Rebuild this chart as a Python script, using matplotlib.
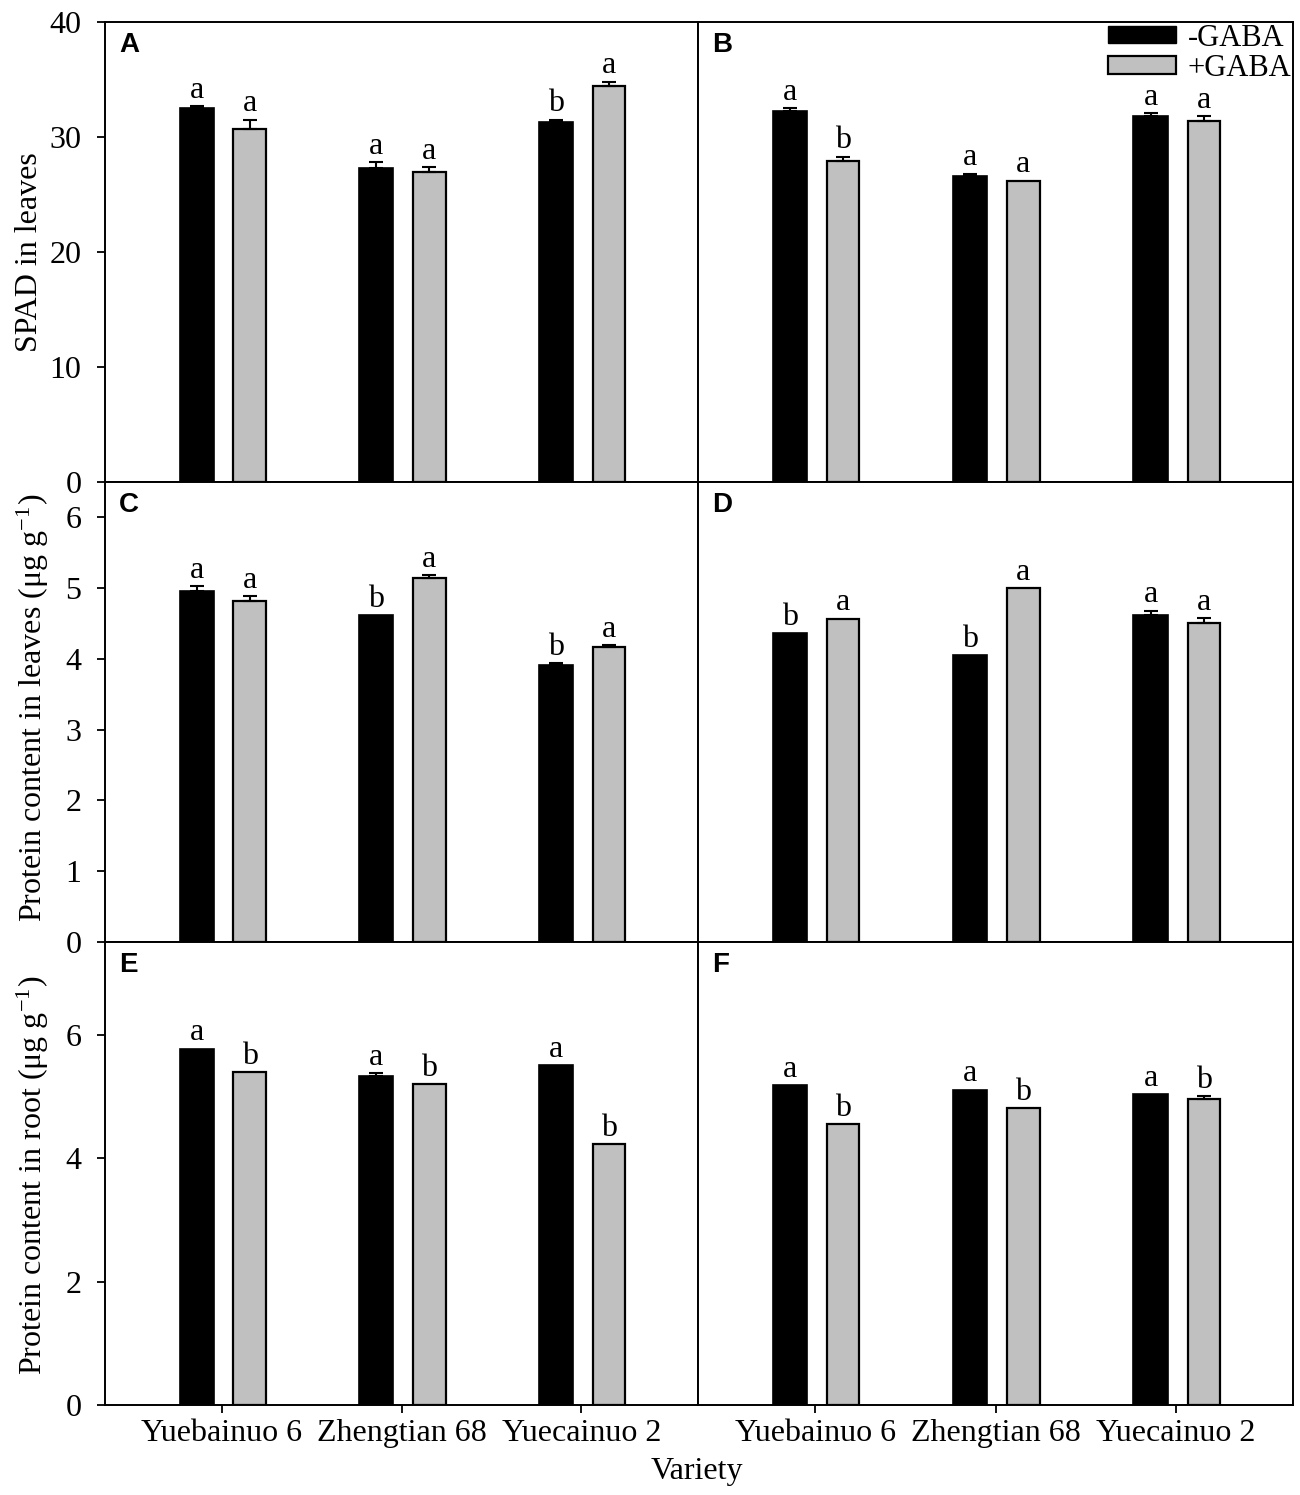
import matplotlib
matplotlib.use('Agg')
import matplotlib.pyplot as plt
import numpy as np
from matplotlib.patches import Patch

plt.rcParams['font.family'] = ['Liberation Serif', 'DejaVu Serif']
plt.rcParams['mathtext.fontset'] = 'stix'

varieties = ['Yuebainuo 6', 'Zhengtian 68', 'Yuecainuo 2']

# A: SPAD, experiment 1
a_minus = [32.5, 27.3, 31.3]
a_minus_err = [0.2, 0.5, 0.2]
a_plus = [30.7, 27.0, 34.4]
a_plus_err = [0.8, 0.4, 0.4]
a_minus_sig = ['a', 'a', 'b']
a_plus_sig = ['a', 'a', 'a']

# B: SPAD, experiment 2
b_minus = [32.3, 26.6, 31.8]
b_minus_err = [0.2, 0.2, 0.3]
b_plus = [27.9, 26.2, 31.4]
b_plus_err = [0.4, 0.0, 0.4]
b_minus_sig = ['a', 'a', 'a']
b_plus_sig = ['b', 'a', 'a']

# C: protein in leaves, experiment 1
c_minus = [4.96, 4.62, 3.92]
c_minus_err = [0.07, 0.0, 0.02]
c_plus = [4.82, 5.15, 4.17]
c_plus_err = [0.07, 0.03, 0.02]
c_minus_sig = ['a', 'b', 'b']
c_plus_sig = ['a', 'a', 'a']

# D: protein in leaves, experiment 2
d_minus = [4.36, 4.05, 4.62]
d_minus_err = [0.0, 0.0, 0.06]
d_plus = [4.57, 5.0, 4.51]
d_plus_err = [0.0, 0.0, 0.07]
d_minus_sig = ['b', 'b', 'a']
d_plus_sig = ['a', 'a', 'a']

# E: protein in root, experiment 1
e_minus = [5.77, 5.33, 5.51]
e_minus_err = [0.0, 0.04, 0.0]
e_plus = [5.39, 5.20, 4.23]
e_plus_err = [0.0, 0.0, 0.0]
e_minus_sig = ['a', 'a', 'a']
e_plus_sig = ['b', 'b', 'b']

# F: protein in root, experiment 2
f_minus = [5.18, 5.11, 5.04]
f_minus_err = [0.0, 0.0, 0.0]
f_plus = [4.55, 4.81, 4.96]
f_plus_err = [0.0, 0.0, 0.04]
f_minus_sig = ['a', 'a', 'a']
f_plus_sig = ['b', 'b', 'b']

W, H = 1300, 1495
fig = plt.figure(figsize=(W / 100, H / 100), dpi=100)

cols = [(105, 698), (698, 1293)]
rows = [(22, 482), (482, 942), (942, 1405)]


def px_rect(x0, x1, y0, y1):
    return [x0 / W, 1 - y1 / H, (x1 - x0) / W, (y1 - y0) / H]


panels = [
    ('A', 0, 0, a_minus, a_minus_err, a_plus, a_plus_err, a_minus_sig, a_plus_sig),
    ('B', 0, 1, b_minus, b_minus_err, b_plus, b_plus_err, b_minus_sig, b_plus_sig),
    ('C', 1, 0, c_minus, c_minus_err, c_plus, c_plus_err, c_minus_sig, c_plus_sig),
    ('D', 1, 1, d_minus, d_minus_err, d_plus, d_plus_err, d_minus_sig, d_plus_sig),
    ('E', 2, 0, e_minus, e_minus_err, e_plus, e_plus_err, e_minus_sig, e_plus_sig),
    ('F', 2, 1, f_minus, f_minus_err, f_plus, f_plus_err, f_minus_sig, f_plus_sig),
]
ylims = [(0, 40), (0, 6.5), (0, 7.5)]
yticks = [[0, 10, 20, 30, 40], [0, 1, 2, 3, 4, 5, 6], [0, 2, 4, 6]]

x = np.arange(len(varieties))
gray = '#c0c0c0'

for letter, r, c, mn, mn_err, pl, pl_err, mn_sig, pl_sig in panels:
    ax = fig.add_axes(px_rect(cols[c][0], cols[c][1], rows[r][0], rows[r][1]))
    xm = x - 0.14
    xp = x + 0.155
    ax.bar(xm, mn, width=0.19, color='black', edgecolor='black', linewidth=1.2, zorder=2)
    ax.bar(xp, pl, width=0.18, color=gray, edgecolor='black', linewidth=1.6, zorder=2)

    for xs, vals, errs in [(xm, mn, mn_err), (xp, pl, pl_err)]:
        vals = np.array(vals)
        errs = np.array(errs)
        m = errs > 0
        if m.any():
            ax.errorbar(xs[m], vals[m], yerr=[np.zeros(m.sum()), errs[m]], fmt='none',
                        ecolor='black', elinewidth=1.5, capsize=5, capthick=1.5, zorder=3)

    for xs, vals, errs, sig in [(xm, mn, mn_err, mn_sig), (xp, pl, pl_err, pl_sig)]:
        for xi, v, e, s in zip(xs, vals, errs, sig):
            ax.annotate(s, (xi, v + e), xytext=(0, 6), textcoords='offset points',
                        ha='center', va='baseline', fontsize=23)

    ax.set_xlim(-0.65, 2.65)
    ax.set_ylim(*ylims[r])
    for sp in ax.spines.values():
        sp.set_linewidth(1.4)
        sp.set_color('black')

    if c == 0:
        ax.set_yticks(yticks[r])
        ax.tick_params(axis='y', direction='out', length=6, width=1.3, pad=11, labelsize=23)
    else:
        ax.tick_params(axis='y', left=False, labelleft=False)

    if r == 2:
        ax.set_xticks(x)
        ax.set_xticklabels(varieties)
        ax.tick_params(axis='x', direction='out', length=6, width=1.3, pad=4, labelsize=23)
    else:
        ax.tick_params(axis='x', bottom=False, labelbottom=False)

    ax.text(0.024, 0.978, letter, transform=ax.transAxes, ha='left', va='top',
            fontsize=20, fontweight='bold', family=['Liberation Sans', 'DejaVu Sans'])

    if letter == 'B':
        handles = [Patch(facecolor='black', edgecolor='black'),
                   Patch(facecolor=gray, edgecolor='black', linewidth=1.6)]
        ax.legend(handles, ['-GABA', '+GABA'], loc='upper right', frameon=False,
                  fontsize=22, handlelength=2.2, handleheight=0.5, labelspacing=0.05,
                  borderaxespad=0.0, handletextpad=0.4, borderpad=0.05)

# axis labels
fig.text(30 / W, 1 - 252 / H, 'SPAD in leaves', rotation=90, ha='center', va='center', fontsize=23)
fig.text(33 / W, 1 - 708 / H, r'Protein content in leaves (μg g$^{\mathregular{-1}}$)',
         rotation=90, ha='center', va='center', fontsize=23)
fig.text(33 / W, 1 - 1175 / H, r'Protein content in root (μg g$^{\mathregular{-1}}$)',
         rotation=90, ha='center', va='center', fontsize=23)
fig.text(697 / W, 1 - 1472 / H, 'Variety', ha='center', va='center', fontsize=23)

fig.savefig('out.png', dpi=100)
